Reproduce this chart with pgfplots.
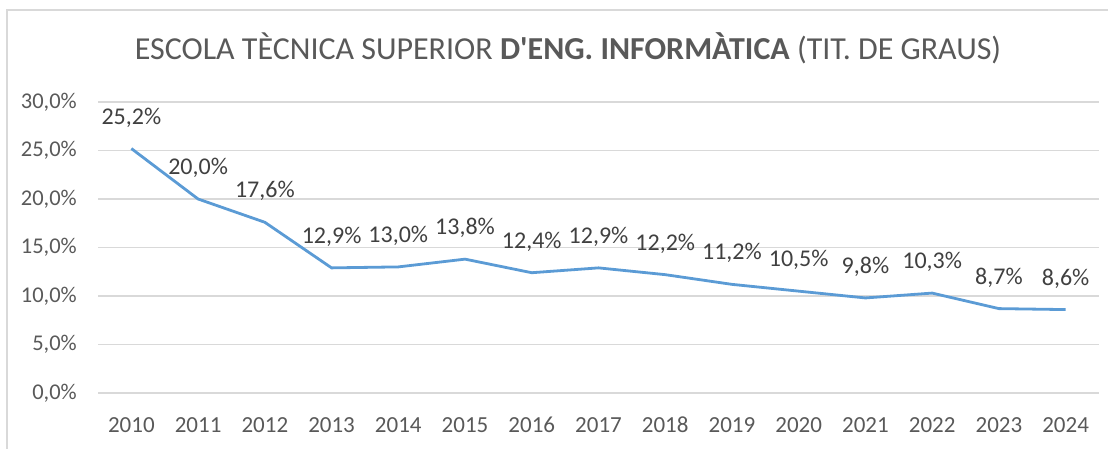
\documentclass[border=0pt]{standalone}
\usepackage{pgfplots}
\pgfplotsset{compat=1.18}
\usepackage{fontspec}
\setmainfont{Carlito}[Ligatures=TeXOff]
\definecolor{linecol}{HTML}{5B9BD5}
\definecolor{gridcol}{HTML}{D9D9D9}
\definecolor{tickcol}{HTML}{595959}
\definecolor{labcol}{HTML}{404040}
\begin{document}
\begin{tikzpicture}[x=1pt,y=1pt]
\useasboundingbox (0,0) rectangle (1108,448);
\draw[gridcol, line width=1.3pt] (7,-2) -- (7,438) -- (1110,438);
\node[anchor=base, font=\fontsize{32}{38}\selectfont, text=tickcol] at (568,388) {ESCOLA TÈCNICA SUPERIOR \textbf{D'ENG. INFORMÀTICA} (TIT. DE GRAUS)};
\begin{axis}[
  at={(98pt,55pt)}, anchor=south west,
  scale only axis, width=1001pt, height=291pt,
  xmin=2009.5, xmax=2024.5, ymin=0, ymax=30,
  axis line style={draw=none}, tick style={draw=none},
  ymajorgrids, grid style={color=gridcol, line width=1.3pt},
  ytick={0,5,10,15,20,25,30},
  yticklabels={{0,0\%},{5,0\%},{10,0\%},{15,0\%},{20,0\%},{25,0\%},{30,0\%}},
  xtick={2010,2011,2012,2013,2014,2015,2016,2017,2018,2019,2020,2021,2022,2023,2024},
  xticklabels={2010,2011,2012,2013,2014,2015,2016,2017,2018,2019,2020,2021,2022,2023,2024},
  yticklabel style={anchor=east, inner sep=0pt, xshift=-21pt, font=\fontsize{22.5}{27}\selectfont, text=tickcol},
  xticklabel style={anchor=base, inner sep=0pt, yshift=-39pt, font=\fontsize{23}{27}\selectfont, text=tickcol},
  /pgf/number format/assume math mode=true,
  clip=false,
]
\addplot[color=linecol, line width=2.8pt, mark=none,
  nodes near coords={\pgfmathprintnumber[fixed,fixed zerofill,precision=1,use comma]{\pgfplotspointmeta}\%},
  point meta=y,
  every node near coord/.style={anchor=base, inner sep=0pt, yshift=24.5pt, font=\fontsize{24}{28}\selectfont, text=labcol}]
coordinates {
(2010,25.2) (2011,20.0) (2012,17.6) (2013,12.9) (2014,13.0) (2015,13.8) (2016,12.4) (2017,12.9)
(2018,12.2) (2019,11.2) (2020,10.5) (2021,9.8) (2022,10.3) (2023,8.7) (2024,8.6)
};
\end{axis}
\end{tikzpicture}
\end{document}
